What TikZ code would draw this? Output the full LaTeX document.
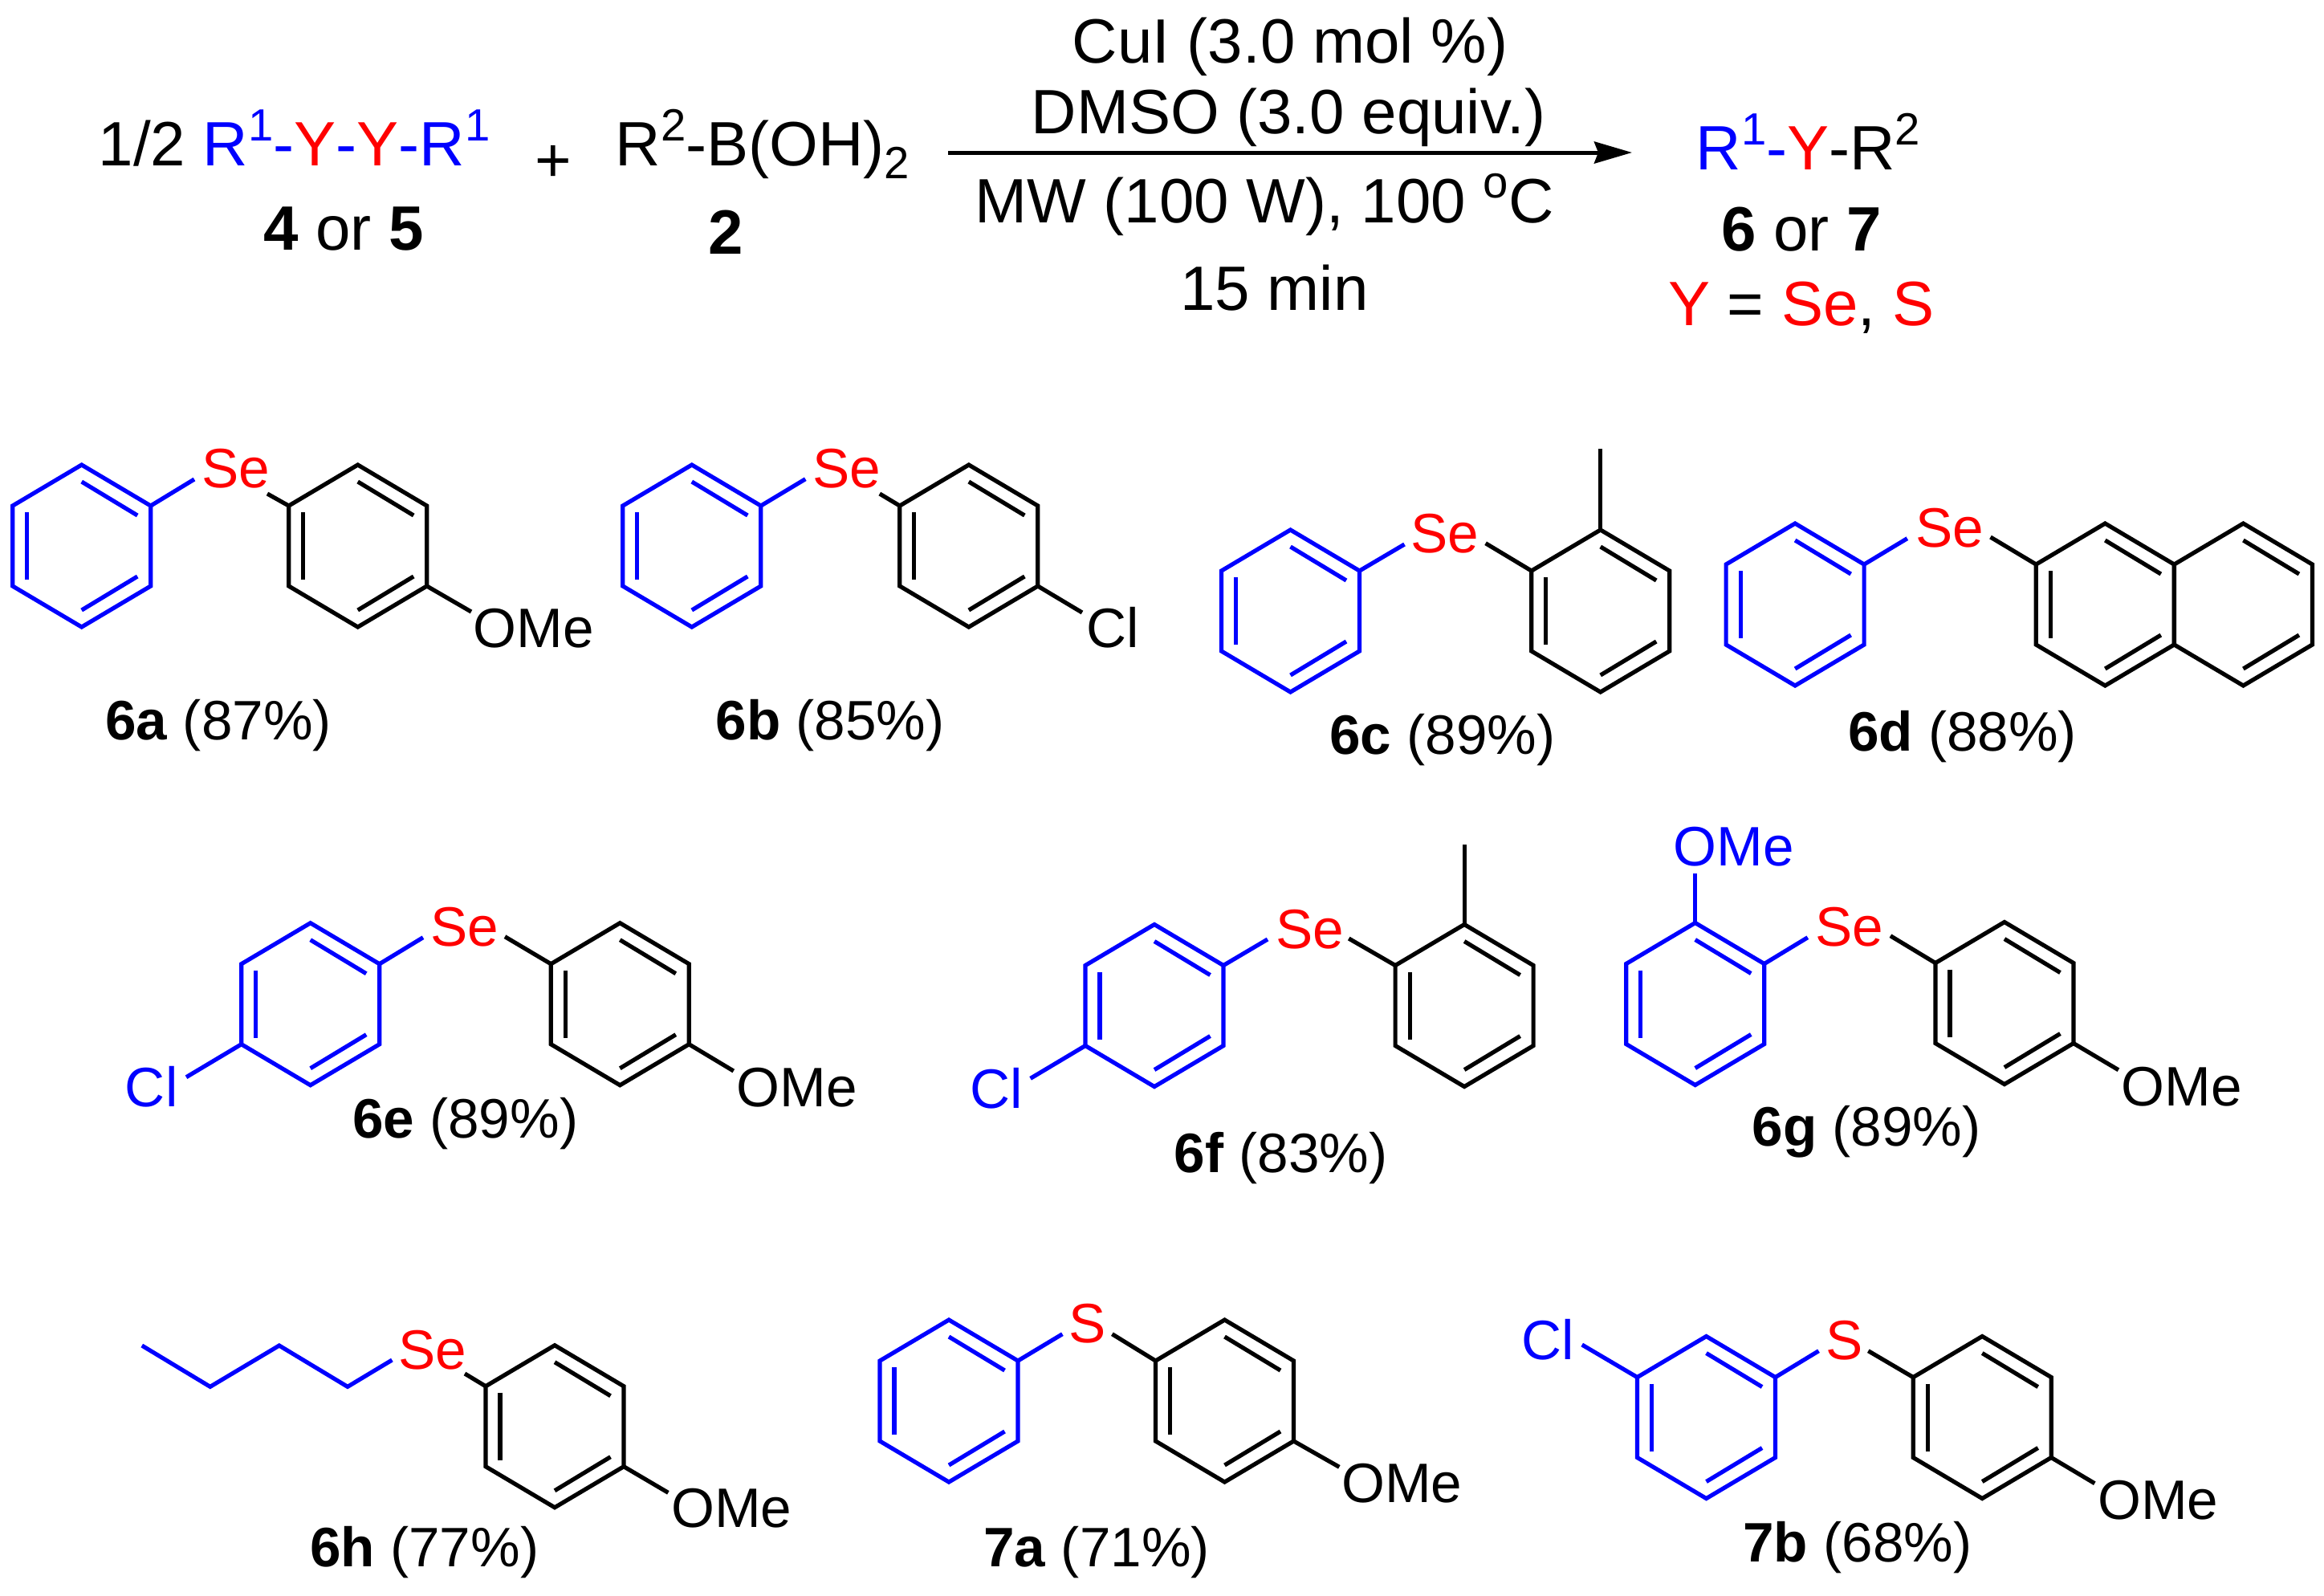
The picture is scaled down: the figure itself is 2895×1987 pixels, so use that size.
\documentclass[tikz,border=0pt]{standalone}
\usepackage{fontspec}
\setmainfont{Liberation Sans}
\usetikzlibrary{arrows.meta}
\newcommand{\bigtxt}{\fontsize{22.2}{27}\selectfont}
\newcommand{\smalltxt}{\fontsize{19.7}{24}\selectfont}
\newcommand{\supr}[1]{\raisebox{8.8pt}{\fontsize{16}{16}\selectfont #1}}
\newcommand{\subr}[1]{\raisebox{-4.5pt}{\fontsize{16}{16}\selectfont #1}}
\newcommand{\bl}[1]{\textcolor{blue}{#1}}
\newcommand{\rd}[1]{\textcolor{red}{#1}}
\tikzset{
  blackbond/.style = {draw=black, line width=0.052cm},
  bluebond/.style = {draw=blue, line width=0.052cm},
  rxnarrow/.style = {line width=0.05cm, -{Stealth[length=0.47cm, width=0.27cm, inset=0.05cm]}},
  head/.style = {anchor=base, inner sep=0pt, font=\bigtxt},
  headleft/.style = {anchor=base west, inner sep=0pt, font=\bigtxt},
  atom/.style = {anchor=base, inner sep=0pt, font=\smalltxt},
  redatom/.style = {atom, text=red},
  blueatom/.style = {atom, text=blue}
}
\newcommand{\halfring}[4]{
  \begin{scope}[shift={(#2,#3)}]
    \coordinate (#1t) at (0,-101);
    \coordinate (#1ur) at (86,-50);
    \coordinate (#1lr) at (86,50);
    \coordinate (#1b) at (0,101);
    \coordinate (#1ll) at (-86,50);
    \coordinate (#1ul) at (-86,-50);
    \draw[#4] (#1t) -- (#1ur) -- (#1lr) -- (#1b) -- (#1ll) -- (#1ul) -- cycle;
    \draw[#4] (0,-80) -- (69.5,-38);
    \draw[#4] (69.5,38) -- (0,80);
  \end{scope}
}
\newcommand{\ring}[4]{
  \halfring{#1}{#2}{#3}{#4}
  \draw[#4] ([shift={(18,8)}]#1ul) -- ([shift={(18,-8)}]#1ll);
}
\begin{document}
\begin{tikzpicture}[x=0.01cm,y=-0.01cm]
    \useasboundingbox (0,0) rectangle (2895,1987);

    \node[headleft] (reactA) at (122,206.7) {1/2 \bl{R\supr{1}-}\rd{Y}\bl{-}\rd{Y}\bl{-R\supr{1}}};
    \node[head] (labelA) at (428,311.7) {\textbf{4} or \textbf{5}};
    \node[head] (plus) at (688.8,226) {+};
    \node[headleft] (reactB) at (766,206.7) {R\supr{2}-B(OH)\subr{2}};
    \node[head] (labelB) at (904,316) {\textbf{2}};
    \coordinate (arrowstart) at (1181,190);
    \coordinate (arrowend) at (2033,190);
    \draw[rxnarrow] (arrowstart) -- (arrowend);
    \node[head] (condA) at (1607,78) {CuI (3.0 mol \%)};
    \node[head] (condB) at (1605,166.7) {DMSO (3.0 equiv.)};
    \node[head] (condC) at (1575,277) {MW (100 W), 100 \supr{o}C};
    \node[head] (condD) at (1587.6,386.7) {15 min};
    \node[headleft] (prod) at (2112,211.7) {\bl{R\supr{1}-}\rd{Y}-R\supr{2}};
    \node[head] (labelP) at (2244,312) {\textbf{6} or \textbf{7}};
    \node[head] (labelY) at (2244,405) {\rd{Y} = \rd{Se}, \rd{S}};

    \ring{aL}{101.7}{680}{bluebond}
    \ring{aR}{445.7}{680}{blackbond}
    \node[redatom] (seA) at (293.6,607.5) {Se};
    \coordinate (aLend) at (242,597);
    \coordinate (aRend) at (333,615);
    \draw[bluebond] (aLur) -- (aLend);
    \draw[blackbond] (aRul) -- (aRend);
    \node[atom] (omeA) at (665,806.5) {OMe};
    \coordinate (omeAend) at (587,762);
    \draw[blackbond] (aRlr) -- (omeAend);
    \node[atom] (nameA) at (272,921) {\textbf{6a} (87\%)};

    \ring{bL}{861.8}{680}{bluebond}
    \ring{bR}{1206.8}{680}{blackbond}
    \node[redatom] (seB) at (1054.7,607.5) {Se};
    \coordinate (bLend) at (1003.3,596.7);
    \coordinate (bRend) at (1095.8,615);
    \draw[bluebond] (bLur) -- (bLend);
    \draw[blackbond] (bRul) -- (bRend);
    \node[atom] (clB) at (1385.8,806.5) {Cl};
    \coordinate (clBend) at (1348,763);
    \draw[blackbond] (bRlr) -- (clBend);
    \node[atom] (nameB) at (1034,921) {\textbf{6b} (85\%)};

    \ring{cL}{1607.5}{761}{bluebond}
    \ring{cR}{1993.7}{761}{blackbond}
    \node[redatom] (seC) at (1799.8,688) {Se};
    \coordinate (cLend) at (1749.5,678);
    \coordinate (cRend) at (1850.6,676.7);
    \draw[bluebond] (cLur) -- (cLend);
    \draw[blackbond] (cRul) -- (cRend);
    \coordinate (meC) at (1993.7,559);
    \draw[blackbond] (cRt) -- (meC);
    \node[atom] (nameC) at (1796.8,939) {\textbf{6c} (89\%)};

    \ring{dL}{2236.1}{753}{bluebond}
    \ring{dR}{2622.3}{753}{blackbond}
    \halfring{dN}{2794.4}{753}{blackbond}
    \node[redatom] (seD) at (2428.7,681) {Se};
    \coordinate (dLend) at (2375.8,670.7);
    \coordinate (dRend) at (2479.5,669);
    \draw[bluebond] (dLur) -- (dLend);
    \draw[blackbond] (dRul) -- (dRend);
    \node[atom] (nameD) at (2444.6,935) {\textbf{6d} (88\%)};

    \ring{eL}{386.7}{1250.7}{bluebond}
    \ring{eR}{772.3}{1250.7}{blackbond}
    \node[redatom] (seE) at (578.6,1178.5) {Se};
    \coordinate (eLend) at (527,1167.7);
    \coordinate (eRend) at (629,1166.7);
    \draw[bluebond] (eLur) -- (eLend);
    \draw[blackbond] (eRul) -- (eRend);
    \node[blueatom] (clE) at (188.7,1378) {Cl};
    \coordinate (clEend) at (232,1341.7);
    \draw[bluebond] (eLll) -- (clEend);
    \node[atom] (omeE) at (992.7,1378) {OMe};
    \coordinate (omeEend) at (913.8,1334);
    \draw[blackbond] (eRlr) -- (omeEend);
    \node[atom] (nameE) at (579.6,1417) {\textbf{6e} (89\%)};

    \ring{fL}{1438}{1252.5}{bluebond}
    \ring{fR}{1824.1}{1252.5}{blackbond}
    \node[redatom] (seF) at (1631.4,1181) {Se};
    \coordinate (fLend) at (1579,1170);
    \coordinate (fRend) at (1680.2,1169);
    \draw[bluebond] (fLur) -- (fLend);
    \draw[blackbond] (fRul) -- (fRend);
    \coordinate (meF) at (1824.1,1051.7);
    \draw[blackbond] (fRt) -- (meF);
    \node[blueatom] (clF) at (1241,1380) {Cl};
    \coordinate (clFend) at (1283.6,1343.3);
    \draw[bluebond] (fLll) -- (clFend);
    \node[atom] (nameF) at (1595.5,1460) {\textbf{6f} (83\%)};

    \ring{gL}{2111.7}{1250.5}{bluebond}
    \ring{gR}{2496.9}{1249.5}{blackbond}
    \node[redatom] (seG) at (2304,1178) {Se};
    \coordinate (gLend) at (2251.8,1167.7);
    \coordinate (gRend) at (2354.9,1165.7);
    \draw[bluebond] (gLur) -- (gLend);
    \draw[blackbond] (gRul) -- (gRend);
    \node[blueatom] (omeGtop) at (2159.6,1078) {OMe};
    \coordinate (omeGtopend) at (2111.7,1087.7);
    \draw[bluebond] (gLt) -- (omeGtopend);
    \node[atom] (omeG) at (2717.5,1377) {OMe};
    \coordinate (omeGend) at (2638.9,1332.7);
    \draw[blackbond] (gRlr) -- (omeGend);
    \node[atom] (nameG) at (2325,1427) {\textbf{6g} (89\%)};

    \coordinate (hA) at (176.8,1676);
    \coordinate (hB) at (261.8,1727.3);
    \coordinate (hC) at (347.8,1676);
    \coordinate (hD) at (433,1727.3);
    \coordinate (hLend) at (488.4,1694);
    \draw[bluebond] (hA) -- (hB) -- (hC) -- (hD) -- (hLend);
    \ring{hR}{691}{1776.7}{blackbond}
    \node[redatom] (seH) at (539,1705.5) {Se};
    \coordinate (hRend) at (579,1711);
    \draw[blackbond] (hRul) -- (hRend);
    \node[atom] (omeH) at (911.4,1902.7) {OMe};
    \coordinate (omeHend) at (832.4,1859.3);
    \draw[blackbond] (hRlr) -- (omeHend);
    \node[atom] (nameH) at (528.7,1951.7) {\textbf{6h} (77\%)};

    \ring{iL}{1182}{1745}{bluebond}
    \ring{iR}{1525.5}{1745}{blackbond}
    \node[redatom] (sI) at (1354.4,1672.5) {S};
    \coordinate (iLend) at (1323.4,1661.7);
    \coordinate (iRend) at (1385.4,1661.7);
    \draw[bluebond] (iLur) -- (iLend);
    \draw[blackbond] (iRul) -- (iRend);
    \node[atom] (omeI) at (1746.4,1871.7) {OMe};
    \coordinate (omeIend) at (1668.3,1827.3);
    \draw[blackbond] (iRlr) -- (omeIend);
    \node[atom] (nameI) at (1366,1951.7) {\textbf{7a} (71\%)};

    \ring{jL}{2125.5}{1765.5}{bluebond}
    \ring{jR}{2469.2}{1765.5}{blackbond}
    \node[redatom] (sJ) at (2297.8,1693.5) {S};
    \coordinate (jLend) at (2265.5,1682.7);
    \coordinate (jRend) at (2327.3,1682.7);
    \draw[bluebond] (jLur) -- (jLend);
    \draw[blackbond] (jRul) -- (jRend);
    \node[blueatom] (clJ) at (1928.2,1693.3) {Cl};
    \coordinate (clJend) at (1970.7,1675);
    \draw[bluebond] (jLul) -- (clJend);
    \node[atom] (omeJ) at (2688.2,1892.7) {OMe};
    \coordinate (omeJend) at (2609.3,1847.7);
    \draw[blackbond] (jRlr) -- (omeJend);
    \node[atom] (nameJ) at (2313.8,1945.7) {\textbf{7b} (68\%)};
\end{tikzpicture}
\end{document}
